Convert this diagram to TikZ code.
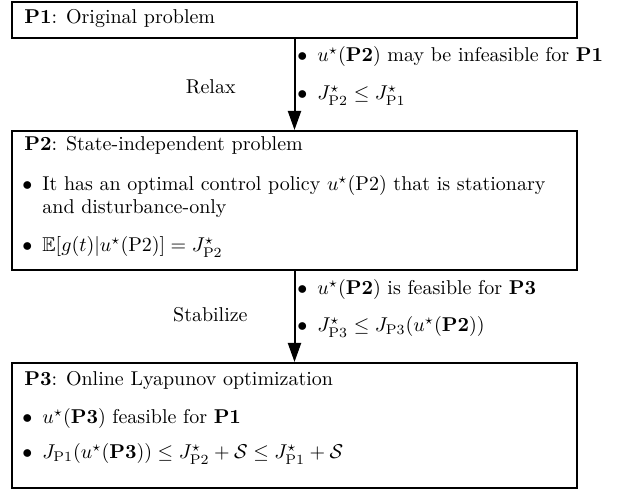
\documentclass[tikz,border=0pt]{standalone}
\usepackage{amsmath,amssymb}
\usetikzlibrary{arrows.meta,fit}
\newcommand\itm{\makebox[10pt][l]{$\bullet$}}
\begin{document}
\begin{tikzpicture}[x=0.5pt,y=-0.5pt,
  box/.style={draw, line width=1pt, rectangle, inner sep=0pt},
  txt/.style={anchor=west, inner sep=0pt, text height=1.6ex, text depth=.45ex},
  flow/.style={line width=1pt, -{Triangle[length=9.5pt,width=6.5pt]}}]
\useasboundingbox (0,0) rectangle (621,491);
\node[box, fit={(12,2) (577,38)}] (p1) {};
\node[box, fit={(12,131) (577,270)}] (p2) {};
\node[box, fit={(12,363) (577,488)}] (p3) {};
\draw[flow] (p1.south) -- (p2.north);
\draw[flow] (p2.south) -- (p3.north);
% box 1
\node[txt] (t1) at (24,19) {\textbf{P1}: Original problem};
% arrow 1 labels
\node[txt] (a1) at (297,57) {\itm$u^\star(\mathbf{P2})$ may be infeasible for \textbf{P1}};
\node[txt] (a2) at (297,95) {\itm$J^\star_{\mathrm{P2}}\le J^\star_{\mathrm{P1}}$};
\node[txt,anchor=east] (relax) at (236,89) {Relax};
% box 2
\node[txt] (t2) at (24,146) {\textbf{P2}: State-independent problem};
\node[txt] (b1) at (22,186) {\itm It has an optimal control policy $u^\star(\mathrm{P2})$ that is stationary};
\node[txt] (b1b) at (42,209) {and disturbance-only};
\node[txt] (b2) at (22,247) {\itm$\mathbb{E}[g(t)|u^\star(\mathrm{P2})]=J^\star_{\mathrm{P2}}$};
% arrow 2 labels
\node[txt] (c1) at (297,290) {\itm$u^\star(\mathbf{P2})$ is feasible for \textbf{P3}};
\node[txt] (c2) at (297,327) {\itm$J^\star_{\mathrm{P3}}\le J_{\mathrm{P3}}(u^\star(\mathbf{P2}))$};
\node[txt,anchor=east] (stab) at (248,317) {Stabilize};
% box 3
\node[txt] (t3) at (24,381) {\textbf{P3}: Online Lyapunov optimization};
\node[txt] (d1) at (22,419) {\itm$u^\star(\mathbf{P3})$ feasible for \textbf{P1}};
\node[txt] (d2) at (22,454) {\itm$J_{\mathrm{P1}}(u^\star(\mathbf{P3}))\le J^\star_{\mathrm{P2}}+\mathcal{S}\le J^\star_{\mathrm{P1}}+\mathcal{S}$};
\end{tikzpicture}
\end{document}
